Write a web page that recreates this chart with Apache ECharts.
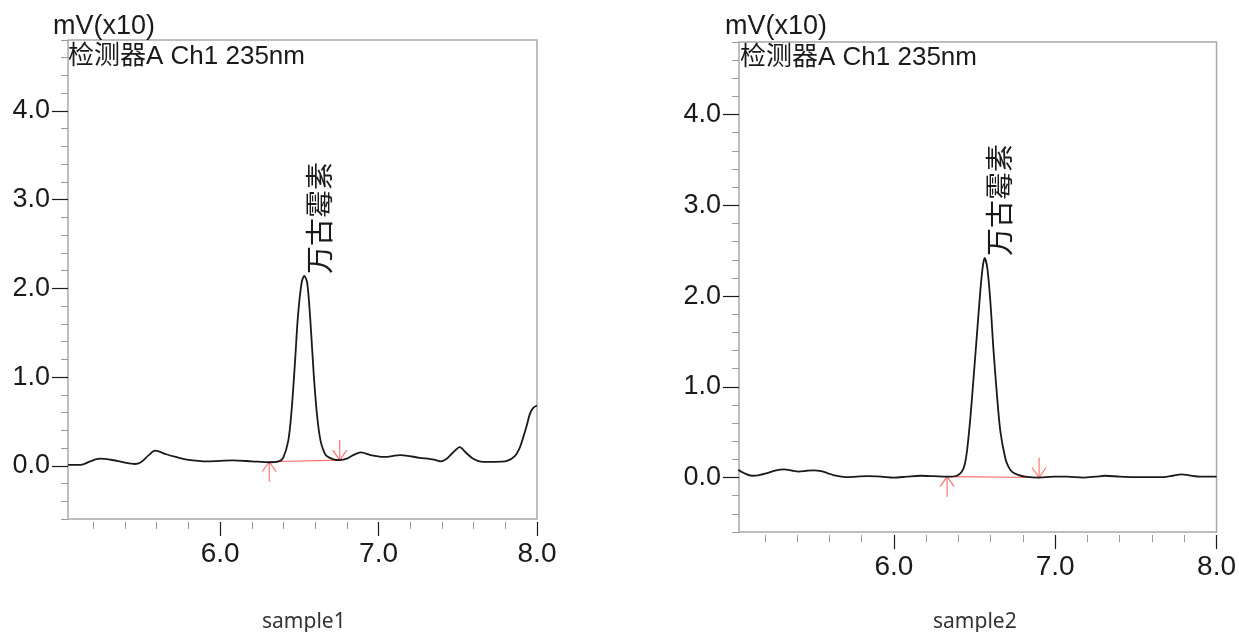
<!DOCTYPE html>
<html>
<head>
<meta charset="utf-8">
<script src="https://cdn.jsdelivr.net/npm/echarts@6/dist/echarts.min.js"></script>
<style>
html, body { margin: 0; padding: 0; background: #fff; }
#chart { width: 1239px; height: 632px; }
</style>
</head>
<body>
<div id="chart"></div>
<script>
// sample1: 保留时间 (min) / 信号 (mV x10)
const time1 = [5.04, 5.12, 5.18, 5.24, 5.32, 5.40, 5.46, 5.50, 5.55, 5.59, 5.66, 5.72, 5.79, 5.92, 6.08, 6.20, 6.31, 6.37,
  6.398, 6.43, 6.451, 6.472, 6.491, 6.514, 6.531, 6.550, 6.571, 6.592, 6.613, 6.634, 6.655, 6.672, 6.72, 6.756,
  6.80, 6.84, 6.89, 6.95, 7.03, 7.14, 7.26, 7.35, 7.39, 7.43, 7.47, 7.513, 7.55, 7.597, 7.66, 7.73, 7.81, 7.86,
  7.89, 7.913, 7.935, 7.955, 7.975, 8.0];
const signal1 = [0.01, 0.01, 0.05, 0.08, 0.065, 0.035, 0.02, 0.04, 0.12, 0.17, 0.13, 0.10, 0.07, 0.05, 0.06, 0.05, 0.04, 0.05,
  0.09, 0.28, 0.62, 1.15, 1.68, 2.06, 2.14, 2.06, 1.60, 1.00, 0.55, 0.28, 0.16, 0.11, 0.07, 0.064,
  0.08, 0.12, 0.15, 0.12, 0.10, 0.12, 0.09, 0.07, 0.05, 0.08, 0.15, 0.21, 0.15, 0.08, 0.045, 0.045, 0.055, 0.11,
  0.20, 0.32, 0.45, 0.585, 0.65, 0.68];

// sample2
const time2 = [5.035, 5.07, 5.12, 5.16, 5.216, 5.27, 5.32, 5.37, 5.41, 5.46, 5.505, 5.55, 5.587, 5.64, 5.70, 5.77, 5.835,
  5.92, 6.0, 6.08, 6.165, 6.25, 6.33, 6.39, 6.422, 6.44, 6.453, 6.474, 6.494, 6.515, 6.536, 6.550, 6.562, 6.579,
  6.598, 6.618, 6.639, 6.660, 6.691, 6.71, 6.731, 6.77, 6.814, 6.90, 6.99, 7.07, 7.175, 7.25, 7.31, 7.40, 7.484,
  7.58, 7.67, 7.73, 7.782, 7.83, 7.896, 8.0];
const signal2 = [0.085, 0.05, 0.02, 0.025, 0.05, 0.08, 0.09, 0.075, 0.066, 0.075, 0.08, 0.07, 0.05, 0.02, 0.005, 0.01, 0.015,
  0.01, 0.0, 0.01, 0.02, 0.015, 0.01, 0.02, 0.066, 0.15, 0.29, 0.655, 1.10, 1.58, 2.06, 2.31, 2.42, 2.31,
  1.94, 1.39, 0.91, 0.51, 0.21, 0.12, 0.066, 0.03, 0.01, 0.0, 0.01, 0.01, 0.0, 0.01, 0.02, 0.01, 0.005,
  0.005, 0.005, 0.02, 0.035, 0.025, 0.01, 0.01];

// 积分基线起止点 [时间, 信号]
const baseline1 = [[6.31, 0.045], [6.755, 0.064]];
const baseline2 = [[6.33, 0.01], [6.90, 0.0]];

const peakName = '万古霉素';
const peak1 = [6.531, 2.14];
const peak2 = [6.562, 2.42];

const xMin = 5.04, xMax = 8.0;
const yMin = -0.6, yMax = 4.8;
const xTicks = [6.0, 7.0, 8.0];
const xMinorTicks = [5.2, 5.4, 5.6, 5.8, 6.2, 6.4, 6.6, 6.8, 7.2, 7.4, 7.6, 7.8];
const yTicks = [0, 1, 2, 3, 4];
const yMinorTicks = [-0.6, -0.4, -0.2, 0.2, 0.4, 0.6, 0.8, 1.2, 1.4, 1.6, 1.8, 2.2, 2.4, 2.6, 2.8, 3.2, 3.4, 3.6, 3.8, 4.2, 4.4, 4.6, 4.8];

const yUnit = 'mV(x10)';
const detector = '检测器A Ch1 235nm';
const sampleNames = ['sample1', 'sample2'];

const latin = "'Liberation Sans', 'Noto Sans CJK SC', sans-serif";
const ink = '#1a1a1a';
const red = '#ff6a6a';

const myChart = echarts.init(document.getElementById('chart'));

const grids = [
  { left: 68, top: 40, width: 469, height: 479, show: true, borderColor: '#a9a9a9', borderWidth: 1.5 },
  { left: 739, top: 42, width: 479, height: 490, show: true, borderColor: '#a9a9a9', borderWidth: 1.5 },
];

const fmt = v => v.toFixed(1);
const xAxes = [];
const yAxes = [];
grids.forEach((g, i) => {
  xAxes.push({
    gridIndex: i, type: 'value', min: xMin, max: xMax, position: 'bottom', offset: 3,
    axisLine: { show: false, onZero: false },
    axisTick: { show: true, customValues: xTicks, length: 14, lineStyle: { color: ink, width: 1.2 } },
    axisLabel: { customValues: xTicks, formatter: fmt, fontSize: 28, color: ink, margin: 18, fontFamily: latin },
    splitLine: { show: false },
  });
  xAxes.push({
    gridIndex: i, type: 'value', min: xMin, max: xMax, position: 'bottom', offset: 3,
    axisLine: { show: false, onZero: false },
    axisTick: { show: true, customValues: xMinorTicks, length: 7, lineStyle: { color: '#999', width: 1 } },
    axisLabel: { show: false },
    splitLine: { show: false },
  });
  yAxes.push({
    gridIndex: i, type: 'value', min: yMin, max: yMax, position: 'left',
    axisLine: { show: false, onZero: false },
    axisTick: { show: true, customValues: yTicks, length: 16, lineStyle: { color: ink, width: 1.2 } },
    axisLabel: { customValues: yTicks, formatter: fmt, fontSize: 27, color: ink, margin: 18, fontFamily: latin },
    splitLine: { show: false },
  });
  yAxes.push({
    gridIndex: i, type: 'value', min: yMin, max: yMax, position: 'left',
    axisLine: { show: false, onZero: false },
    axisTick: { show: true, customValues: yMinorTicks, length: 7, lineStyle: { color: '#999', width: 1 } },
    axisLabel: { show: false },
    splitLine: { show: false },
  });
});

function arrows(params, api) {
  const p = api.coord([api.value(0), api.value(1)]);
  const d = api.value(2); // 1: 向上箭头, -1: 向下箭头
  const s = { stroke: red, lineWidth: 1.1 };
  return {
    type: 'group',
    children: [
      { type: 'line', shape: { x1: p[0], y1: p[1], x2: p[0], y2: p[1] + d * 20 }, style: s },
      { type: 'line', shape: { x1: p[0], y1: p[1], x2: p[0] - 7, y2: p[1] + d * 10 }, style: s },
      { type: 'line', shape: { x1: p[0], y1: p[1], x2: p[0] + 7, y2: p[1] + d * 10 }, style: s },
    ],
  };
}

function peakLabel(params, api) {
  const p = api.coord([api.value(0), api.value(1)]);
  return {
    type: 'text',
    x: p[0] + 15, y: p[1] - 2,
    rotation: Math.PI / 2,
    style: {
      text: peakName, x: 0, y: 0, align: 'left', verticalAlign: 'middle',
      fontSize: 28, fontFamily: "'Noto Sans CJK SC', sans-serif", fill: ink,
    },
  };
}

const panels = [
  { time: time1, signal: signal1, baseline: baseline1, peak: peak1 },
  { time: time2, signal: signal2, baseline: baseline2, peak: peak2 },
];

const series = [];
panels.forEach((p, i) => {
  const ax = { xAxisIndex: i * 2, yAxisIndex: i * 2 };
  series.push({
    ...ax, type: 'line', data: p.time.map((t, k) => [t, p.signal[k]]),
    smooth: 0.3, symbol: 'none', lineStyle: { color: ink, width: 1.8 }, z: 3,
  });
  series.push({
    ...ax, type: 'line', data: p.baseline, symbol: 'none',
    lineStyle: { color: red, width: 1.1 }, z: 2,
  });
  series.push({
    ...ax, type: 'custom', renderItem: arrows,
    data: [[p.baseline[0][0], p.baseline[0][1], 1], [p.baseline[1][0], p.baseline[1][1], -1]], z: 2,
  });
  series.push({ ...ax, type: 'custom', renderItem: peakLabel, data: [p.peak], z: 4 });
});

const titleStyle = (size) => ({ fontSize: size, fontWeight: 'normal', color: ink, fontFamily: latin });
const sampleStyle = { fontSize: 21, fontWeight: 'normal', color: '#333', fontFamily: "'Noto Sans', sans-serif" };
const option = {
  animation: false,
  backgroundColor: '#fff',
  title: [
    { text: yUnit, left: 53, top: 13, padding: 0, textStyle: titleStyle(27) },
    { text: detector, left: 68, top: 44, padding: 0, textStyle: titleStyle(26) },
    { text: yUnit, left: 725, top: 13, padding: 0, textStyle: titleStyle(27) },
    { text: detector, left: 740, top: 45, padding: 0, textStyle: titleStyle(26) },
    { text: sampleNames[0], left: 262, top: 612, padding: 0, textStyle: sampleStyle },
    { text: sampleNames[1], left: 933, top: 612, padding: 0, textStyle: sampleStyle },
  ],
  grid: grids,
  xAxis: xAxes,
  yAxis: yAxes,
  series: series,
};
myChart.setOption(option);
</script>
</body>
</html>
